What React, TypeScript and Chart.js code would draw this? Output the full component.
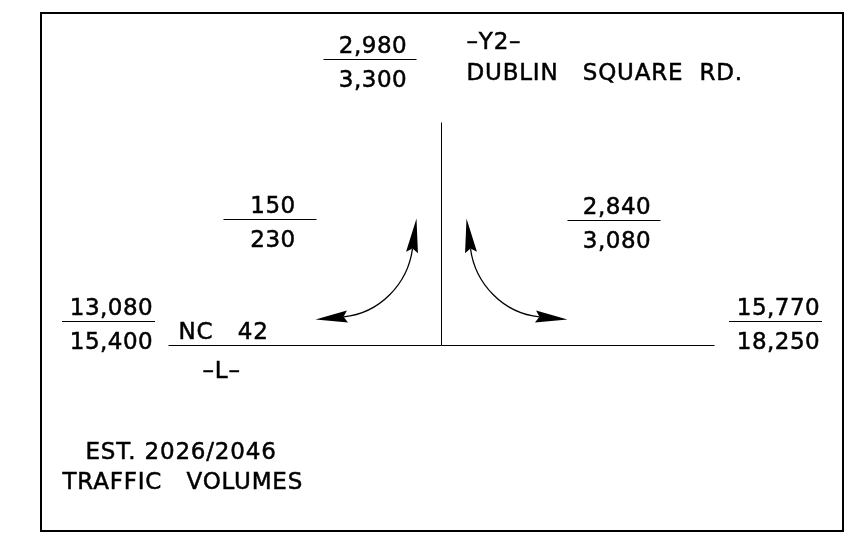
import React, { useEffect, useRef } from "react";
import { Chart, registerables } from "chart.js";

Chart.register(...registerables);

// ---- data ----
const movements = ["-Y2- North leg", "Left turn", "Right turn", "-L- West leg", "-L- East leg"];
const volumes2026 = [2980, 150, 2840, 13080, 15770];
const volumes2046 = [3300, 230, 3080, 15400, 18250];

// ---- layout (diagram units, intersection at origin) ----
const fracX = [-71.5, -171.5, 172.5, -333, 334];
const fracY = [286, 126, 125, 25, 25];
const fracHalf = 46.5;

const roadMainX = [-273, 273];
const roadSideY = [0, 223];

// each turn arrow: [tipA, baseA, tipB, baseB]
const turnArrows = [
  [[-25, 127], [-29.5, 93], [-126, 26], [-94, 29]],
  [[25, 127], [29.5, 93], [126, 26], [94, 29]],
];

const textLabels = ["–Y2–", "DUBLIN   SQUARE  RD.", "NC   42", "–L–", "EST. 2026/2046", "TRAFFIC   VOLUMES"];
const textX = [25, 25, -263, -239, -356, -379];
const textY = [297, 266, 7, -32, -113, -143];

const frameX = [-400.5, 401.5];
const frameY = [-185.5, 332.5];

const FONT = "23px 'DejaVu Sans'";
const fmt = (v: number) => v.toLocaleString("en-US");

const drawText = (ctx: any, t: string, x: number, y: number) => {
  ctx.fillText(t, x, y);
  ctx.strokeText(t, x, y);
};

const diagramPlugin = {
  id: "diagram",
  afterDatasetsDraw(chart: any) {
    const { ctx } = chart;
    const xs = chart.scales.x;
    const ys = chart.scales.y;
    const px = (x: number) => xs.getPixelForValue(x);
    const py = (y: number) => ys.getPixelForValue(y);
    ctx.save();
    // frame
    ctx.strokeStyle = "#000";
    ctx.lineWidth = 2;
    ctx.strokeRect(px(frameX[0]), py(frameY[1]), px(frameX[1]) - px(frameX[0]), py(frameY[0]) - py(frameY[1]));

    // turn arrows
    turnArrows.forEach((a) => {
      const pts = a.map((p) => [px(p[0]), py(p[1])]);
      const heads: number[][] = [];
      for (let k = 0; k < 2; k++) {
        const tip = pts[k * 2];
        const base = pts[k * 2 + 1];
        let dx = tip[0] - base[0];
        let dy = tip[1] - base[1];
        const len = Math.hypot(dx, dy);
        dx /= len;
        dy /= len;
        const hw = 6;
        const notch = [base[0] + dx * 4, base[1] + dy * 4];
        ctx.fillStyle = "#000";
        ctx.beginPath();
        ctx.moveTo(tip[0], tip[1]);
        ctx.lineTo(base[0] - dy * hw, base[1] + dx * hw);
        ctx.lineTo(notch[0], notch[1]);
        ctx.lineTo(base[0] + dy * hw, base[1] - dx * hw);
        ctx.closePath();
        ctx.fill();
        heads.push([notch[0], notch[1], dx, dy]);
      }
      const h = 36;
      const [ax, ay, adx, ady] = heads[0];
      const [bx, by, bdx, bdy] = heads[1];
      ctx.lineWidth = 1.3;
      ctx.beginPath();
      ctx.moveTo(ax, ay);
      ctx.bezierCurveTo(ax - adx * h, ay - ady * h, bx - bdx * h, by - bdy * h, bx, by);
      ctx.stroke();
    });

    // volume fractions
    ctx.font = FONT;
    ctx.fillStyle = "#000";
    ctx.textBaseline = "alphabetic";
    (ctx as any).letterSpacing = "0.5px";
    movements.forEach((_, i) => {
      const cx = px(fracX[i]);
      const ly = Math.round(py(fracY[i])) + 0.5;
      ctx.lineWidth = 1.2;
      ctx.beginPath();
      ctx.moveTo(px(fracX[i] - fracHalf), ly);
      ctx.lineTo(px(fracX[i] + fracHalf), ly);
      ctx.stroke();
      ctx.lineWidth = 0.5;
      ctx.textAlign = "center";
      drawText(ctx, fmt(volumes2026[i]), cx + 3, ly - 6.5);
      drawText(ctx, fmt(volumes2046[i]), cx + 3, ly + 27);
    });

    // labels
    ctx.textAlign = "left";
    ctx.lineWidth = 0.5;
    (ctx as any).letterSpacing = "0.8px";
    textLabels.forEach((t, i) => {
      drawText(ctx, t, px(textX[i]), py(textY[i]));
    });
    ctx.restore();
  },
};

export default function App() {
  const ref = useRef<HTMLCanvasElement>(null);
  useEffect(() => {
    document.body.style.margin = "0";
    const chart = new Chart(ref.current as HTMLCanvasElement, {
      type: "scatter",
      data: {
        datasets: [
          {
            data: roadMainX.map((x) => ({ x, y: 0 })),
            showLine: true,
            borderColor: "#000",
            borderWidth: 1,
            pointRadius: 0,
          },
          {
            data: roadSideY.map((y) => ({ x: 0, y })),
            showLine: true,
            borderColor: "#000",
            borderWidth: 1,
            pointRadius: 0,
          },
        ],
      },
      options: {
        animation: false,
        responsive: false,
        devicePixelRatio: 1,
        layout: { padding: 0 },
        plugins: { legend: { display: false }, tooltip: { enabled: false } },
        scales: {
          x: { type: "linear", min: -441.5, max: 409.5, display: false },
          y: { type: "linear", min: -204.5, max: 345.5, display: false },
        },
      },
      plugins: [diagramPlugin],
    });
    return () => chart.destroy();
  }, []);
  return (
    <div style={{ width: 851, height: 550, background: "#fff" }}>
      <canvas ref={ref} width={851} height={550} />
    </div>
  );
}
